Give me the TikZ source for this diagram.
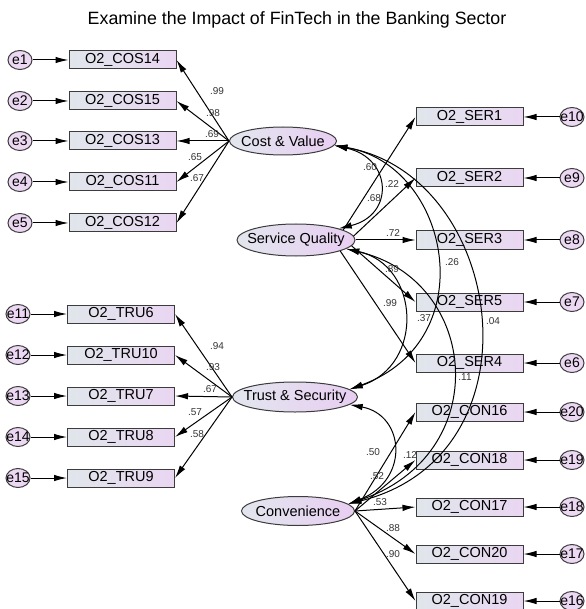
\documentclass[tikz,border=0pt]{standalone}
\usepackage{fontspec}
\setmainfont{Liberation Sans}
\usetikzlibrary{shapes.geometric}
\usetikzlibrary{arrows.meta}
\definecolor{boxleft}{RGB}{224,230,235}
\definecolor{boxright}{RGB}{234,214,242}
\definecolor{latleft}{RGB}{226,230,238}
\definecolor{latright}{RGB}{232,206,242}
\definecolor{errfill}{RGB}{236,216,242}
\definecolor{linegray}{RGB}{60,60,60}
\newcommand{\nofit}[1]{\makebox[0pt]{#1}}
\tikzset{
	obs_box/.style = {
		rectangle,
		draw=linegray,
		line width=1pt,
		left color=boxleft,
		right color=boxright,
		minimum width=107pt,
		minimum height=18pt,
		inner sep=0pt,
		font=\fontsize{14.5}{14.5}\selectfont
	},
	lat_ell/.style = {
		ellipse,
		draw=linegray,
		line width=1pt,
		left color=latleft,
		right color=latright,
		inner sep=0pt,
		font=\fontsize{14.5}{14.5}\selectfont
	},
	err_c/.style = {
		ellipse,
		draw=linegray,
		line width=1pt,
		fill=errfill,
		minimum width=24pt,
		minimum height=19pt,
		inner sep=0pt,
		font=\fontsize{14}{14}\selectfont
	},
	coef/.style = {
		inner sep=0pt,
		text=black!80,
		font=\fontsize{10}{10}\selectfont
	},
	cov/.style = {
		<->
	}
}

\begin{document}
\begin{tikzpicture}[->, >={Latex[length=13pt,width=6.5pt]}, x=1pt, y=-1pt, line width=1pt]
\useasboundingbox (0,0) rectangle (585,609);
\node[anchor=base, font=\fontsize{17.8}{17.8}\selectfont] (title) at (297,25) {Examine the Impact of FinTech in the Banking Sector};

% latent factors
\node[lat_ell, minimum width=107pt, minimum height=28pt] (cv) at (283,141) {\nofit{Cost \& Value}};
\node[lat_ell, minimum width=118pt, minimum height=32pt] (sq) at (296,240) {\nofit{Service Quality}};
\node[lat_ell, minimum width=125pt, minimum height=30pt] (ts) at (295,397) {\nofit{Trust \& Security}};
\node[lat_ell, minimum width=113pt, minimum height=29pt] (co) at (298,511) {\nofit{Convenience}};

% left indicators
\foreach \nm/\y/\e in {COS14/60/e1, COS15/101/e2, COS13/141/e3, COS11/182/e4, COS12/223/e5} {
	\node[obs_box] (\nm) at (122.5,\y) {O2\_\nm};
	\node[err_c] (\e) at (20,\y) {\nofit{\e}};
	\draw (\e) -- (\nm);
	\draw (cv.west) -- (\nm.east);
}
\foreach \nm/\y/\e in {TRU6/314/e11, TRU10/355/e12, TRU7/396/e13, TRU8/437/e14, TRU9/478/e15} {
	\node[obs_box] (\nm) at (121,\y) {O2\_\nm};
	\node[err_c] (\e) at (18,\y) {\nofit{\e}};
	\draw (\e) -- (\nm);
	\draw (ts.west) -- (\nm.east);
}

% right indicators
\foreach \nm/\y/\e in {SER1/117/e10, SER2/178/e9, SER3/240/e8, SER5/302/e7, SER4/363/e6,
		CON16/412/e20, CON18/460/e19, CON17/507/e18, CON20/554/e17, CON19/601/e16} {
	\node[obs_box] (\nm) at (469.5,\y) {O2\_\nm};
	\node[err_c] (\e) at (572,\y) {\nofit{\e}};
	\draw (\e) -- (\nm);
}
\draw (sq.12) -- (SER1.west);
\draw (sq.4) -- (SER2.west);
\draw (sq.east) -- (SER3.west);
\draw (sq.-6) -- (SER5.west);
\draw (sq.-14) -- (SER4.west);
\foreach \nm in {CON16, CON18, CON17, CON20, CON19}
	\draw (co.east) -- (\nm.west);

% covariances
\draw[cov] (cv.-5) .. controls (392,158) and (395,215) .. (sq.15);
\draw[cov] (cv.-5) .. controls (450,165) and (485,340) .. (ts.8);
\draw[cov] (cv.-5) .. controls (505,175) and (545,455) .. (co.8);
\draw[cov] (sq.-10) .. controls (420,265) and (425,365) .. (ts.8);
\draw[cov] (sq.-10) .. controls (480,280) and (495,455) .. (co.8);
\draw[cov] (ts.-8) .. controls (405,415) and (410,480) .. (co.8);

% estimates
\foreach \v/\x/\y [count=\i] in {.99/217/91, .98/213/113, .69/212/134, .65/195/157, .67/197/178,
		.94/217/346, .93/213/367, .67/210/389, .57/195/412, .58/197/434,
		.60/370/167, .22/392/184, .68/374/198, .72/393/233, .89/392/269, .99/390/303,
		.37/424/318, .26/452/262, .04/493/321, .11/465/377,
		.50/373/452, .12/410/455, .52/377/476, .53/380/502, .88/393/528, .90/393/554}
	\node[coef] (k\i) at (\x,\y) {\v};
\end{tikzpicture}
\end{document}
